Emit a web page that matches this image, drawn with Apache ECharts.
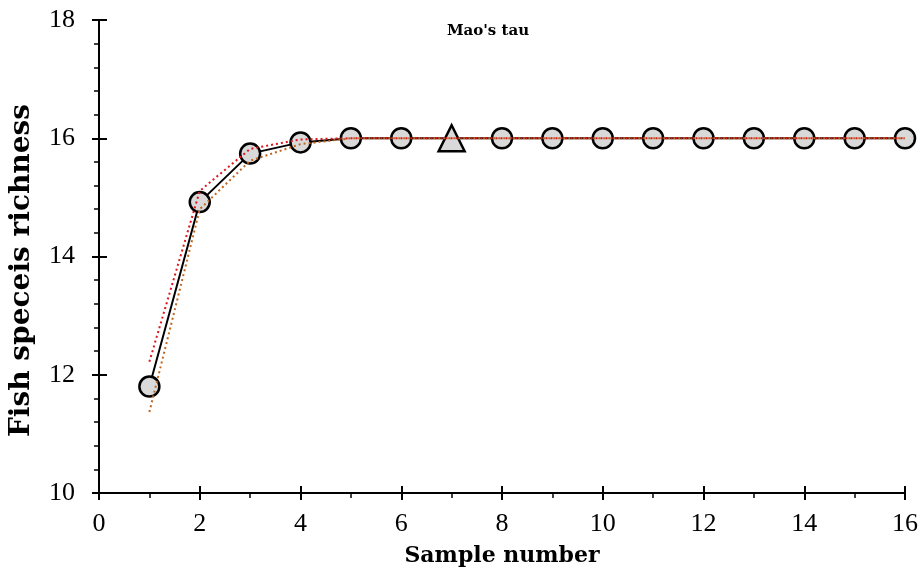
<!DOCTYPE html>
<html>
<head>
<meta charset="utf-8">
<script src="https://cdn.jsdelivr.net/npm/echarts@6/dist/echarts.min.js"></script>
<style>html,body{margin:0;padding:0;background:#fff}#c{width:923px;height:570px}</style>
</head>
<body>
<div id="c"></div>
<script>
var samples = [1,2,3,4,5,6,7,8,9,10,11,12,13,14,15,16];
var richness = [11.80,14.92,15.74,15.93,16,16,16,16,16,16,16,16,16,16,16,16];
var upperCI = [12.22,15.11,15.82,15.98,16,16,16,16,16,16,16,16,16,16,16,16];
var lowerCI = [11.37,14.80,15.62,15.90,16,16,16,16,16,16,16,16,16,16,16,16];
var triangleSample = 7;
var titleText = "Mao's tau";
var xName = "Sample number";
var yName = "Fish speceis richness";

var chart = echarts.init(document.getElementById('c'), null, {renderer:'canvas'});
function pairs(v){ return samples.map(function(s,i){return [s,v[i]];}); }
var mainData = samples.map(function(s,i){
  var d = {value:[s,richness[i]]};
  if (s === triangleSample) { d.symbol = 'triangle'; d.symbolSize = 26; }
  return d;
});
var serifFont = 'Liberation Serif';
var boldFont = 'DejaVu Serif';
var grid = {left:99, right:18, top:20, bottom:77, containLabel:false, outerBoundsMode:'none'};
chart.setOption({
  animation:false,
  title:{text:titleText, left:483, top:19, textAlign:'center',
    textStyle:{fontFamily:boldFont, fontWeight:'bold', fontSize:15, color:'#000'}},
  grid:grid,
  xAxis:[{
    type:'value', min:0, max:16, interval:2,
    name:xName, nameLocation:'middle', nameGap:52,
    nameTextStyle:{fontFamily:boldFont, fontWeight:'bold', fontSize:22, color:'#000'},
    axisLine:{lineStyle:{color:'#000', width:2}},
    axisTick:{inside:false, length:7, lineStyle:{color:'#000', width:2}},
    minorTick:{show:true, splitNumber:2, length:5, lineStyle:{color:'#000', width:1.5}},
    axisLabel:{fontFamily:serifFont, fontSize:26, color:'#000', margin:18},
    splitLine:{show:false}
  },{
    type:'value', min:0, max:16, interval:2, position:'bottom',
    axisLine:{show:false},
    axisTick:{inside:true, length:7, lineStyle:{color:'#000', width:2}},
    axisLabel:{show:false}, splitLine:{show:false}
  }],
  yAxis:[{
    type:'value', min:10, max:18, interval:2,
    name:yName, nameLocation:'middle', nameGap:63,
    nameTextStyle:{fontFamily:boldFont, fontWeight:'bold', fontSize:28, color:'#000', padding:[0,28,0,0]},
    axisLine:{lineStyle:{color:'#000', width:2}},
    axisTick:{inside:false, length:7, lineStyle:{color:'#000', width:2}},
    minorTick:{show:true, splitNumber:5, length:5, lineStyle:{color:'#000', width:1.5}},
    axisLabel:{fontFamily:serifFont, fontSize:26, color:'#000', margin:24},
    splitLine:{show:false}
  },{
    type:'value', min:10, max:18, interval:2, position:'left',
    axisLine:{show:false},
    axisTick:{inside:true, length:8, lineStyle:{color:'#000', width:2}},
    axisLabel:{show:false}, splitLine:{show:false}
  }],
  series:[{
    type:'line', data:mainData, z:2,
    symbol:'circle', symbolSize:20,
    lineStyle:{color:'#000', width:2},
    itemStyle:{color:'#d9d9d9', borderColor:'#000', borderWidth:2.5}
  },{
    type:'line', data:pairs(upperCI), z:3, symbol:'none',
    lineStyle:{color:'#e0141c', width:2, type:[2,3]}
  },{
    type:'line', data:pairs(lowerCI), z:3, symbol:'none',
    lineStyle:{color:'#c0651e', width:2, type:[2,3]}
  }]
});
</script>
</body>
</html>
